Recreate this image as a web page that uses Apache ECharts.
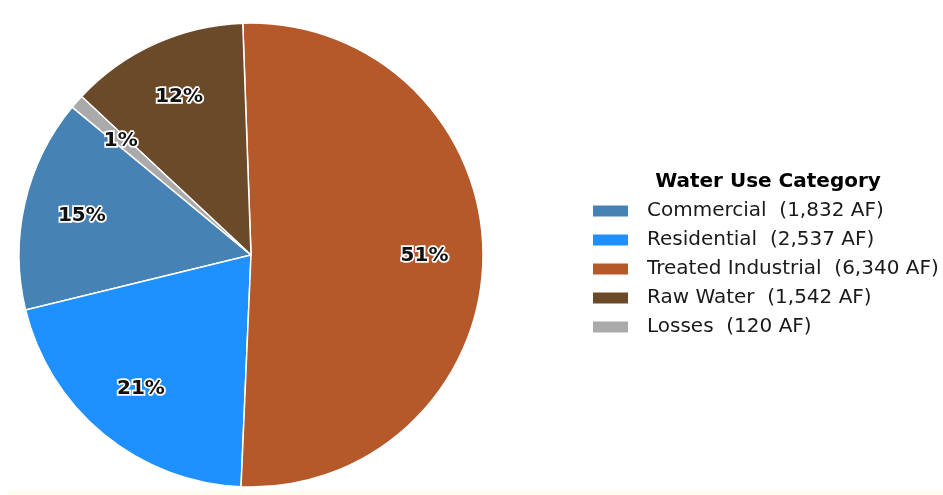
<!DOCTYPE html>
<html>
<head>
<meta charset="utf-8">
<script src="https://cdn.jsdelivr.net/npm/echarts@6/dist/echarts.min.js"></script>
<style>
  html, body { margin: 0; padding: 0; background: #ffffff; }
  #chart { width: 943px; height: 495px; }
</style>
</head>
<body>
<div id="chart"></div>
<script>
// Water use by category, acre-feet
const categories = ['Commercial', 'Residential', 'Treated Industrial', 'Raw Water', 'Losses'];
const volumesAF = [1832, 2537, 6340, 1542, 120];
const sliceColors = ['#4682B4', '#1E90FF', '#B5582A', '#6B4A2A', '#AAAAAA'];

const total = volumesAF.reduce((a, b) => a + b, 0);
const fmtAF = v => v.toLocaleString('en-US');
const legendNames = {};
categories.forEach((c, i) => { legendNames[c] = c + '  (' + fmtAF(volumesAF[i]) + ' AF)'; });

const pieData = categories.map((c, i) => ({
  name: c,
  value: volumesAF[i],
  itemStyle: { color: sliceColors[i] }
}));

const labelData = categories.map((c, i) => ({ name: c, value: volumesAF[i] }));

const FONT = '"DejaVu Sans", Verdana, sans-serif';
const cx = 251, cy = 255, R = 232;

const chart = echarts.init(document.getElementById('chart'), null, { renderer: 'canvas' });
chart.setOption({
  backgroundColor: '#ffffff',
  animation: false,
  title: {
    text: 'Water Use Category',
    left: 763,
    top: 167,
    textAlign: 'center',
    textStyle: { fontFamily: FONT, fontWeight: 'bold', fontSize: 20, color: '#000000' }
  },
  legend: {
    orient: 'vertical',
    left: 586,
    top: 196,
    itemWidth: 37,
    itemHeight: 13,
    itemGap: 9,
    icon: 'rect',
    selectedMode: false,
    data: categories,
    formatter: name => legendNames[name],
    textStyle: {
      fontFamily: FONT, fontSize: 20, color: '#1a1a1a', lineHeight: 20,
      padding: [0, 0, 0, 13]
    }
  },
  graphic: [{
    type: 'rect',
    shape: { x: 8, y: 490, width: 935, height: 5 },
    style: { fill: '#fdfdf2' },
    silent: true
  }],
  series: [
    {
      type: 'pie',
      center: [cx, cy],
      radius: [0, R],
      startAngle: 140.4,
      clockwise: false,
      avoidLabelOverlap: false,
      label: { show: false },
      labelLine: { show: false },
      emphasis: { disabled: true },
      itemStyle: { borderColor: '#ffffff', borderWidth: 1.5 },
      data: pieData
    },
    {
      // transparent ring that carries the percentage labels near 0.74 R
      type: 'pie',
      center: [cx, cy],
      radius: [R * 0.47, R],
      startAngle: 140.4,
      clockwise: false,
      silent: true,
      legendHoverLink: false,
      avoidLabelOverlap: false,
      itemStyle: { color: 'rgba(0,0,0,0)', borderWidth: 0 },
      emphasis: { disabled: true },
      labelLine: { show: false },
      label: {
        show: true,
        position: 'inside',
        formatter: p => Math.round(p.value / total * 100) + '%',
        fontFamily: FONT,
        fontWeight: 'bold',
        fontSize: 20,
        color: '#111111',
        textBorderColor: '#ffffff',
        textBorderWidth: 3.5
      },
      data: labelData
    }
  ]
});
</script>
</body>
</html>
